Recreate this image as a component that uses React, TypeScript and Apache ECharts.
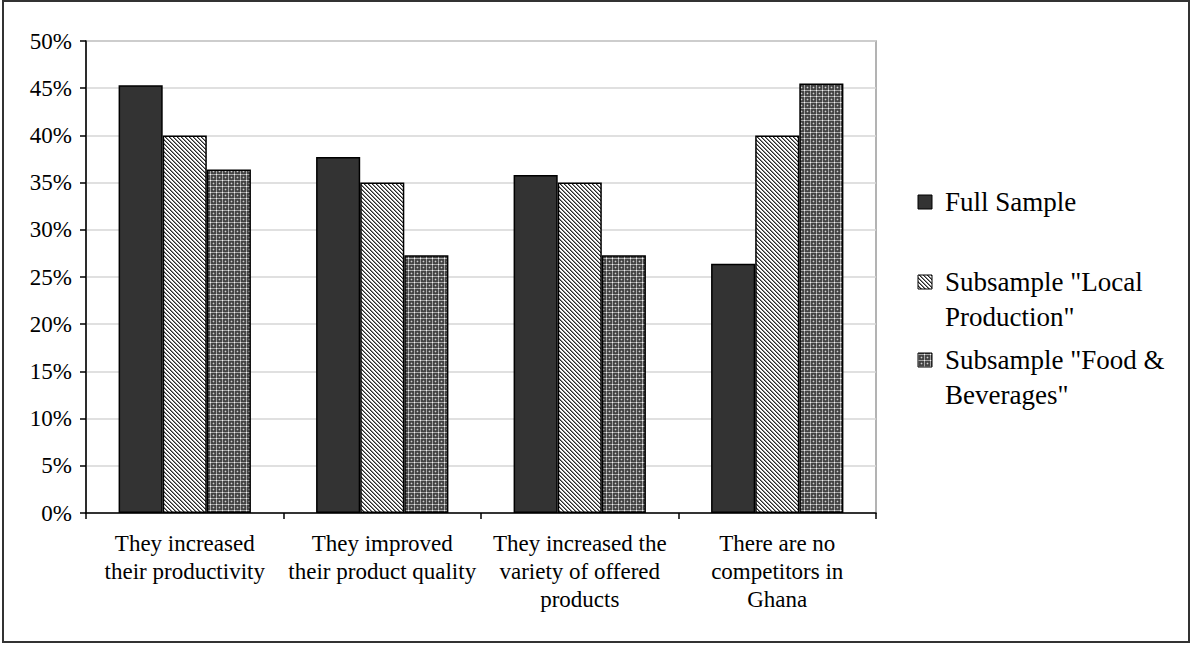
import React, { useEffect, useRef } from "react";
import * as echarts from "echarts";

// Categories and series values (percent of respondents)
const categories = [
  "They increased\ntheir productivity",
  "They improved\ntheir product quality",
  "They increased the\nvariety of offered\nproducts",
  "There are no\ncompetitors in\nGhana",
];
const seriesNames = [
  'Full Sample',
  'Subsample "Local Production"',
  'Subsample "Food & Beverages"',
];
const legendLines = [
  ["Full Sample"],
  ['Subsample "Local', 'Production"'],
  ['Subsample "Food &', 'Beverages"'],
];
const fullSample = [45.3, 37.7, 35.8, 26.4];
const localProduction = [40.0, 35.0, 35.0, 40.0];
const foodBeverages = [36.4, 27.3, 27.3, 45.5];

const FONT = '"Liberation Serif", "Times New Roman", serif';

function makeTile(size: number, paint: (x: number, y: number) => string) {
  const c = document.createElement("canvas");
  c.width = size;
  c.height = size;
  const ctx = c.getContext("2d")!;
  for (let y = 0; y < size; y++) {
    for (let x = 0; x < size; x++) {
      ctx.fillStyle = paint(x, y);
      ctx.fillRect(x, y, 1, 1);
    }
  }
  return {
    image: c.toDataURL(),
    repeat: "repeat",
    imageWidth: size,
    imageHeight: size,
  } as any;
}

// Diagonal "\" hatching
function stripePattern() {
  return makeTile(4, (x, y) => {
    if (x === y) return "#2a2a2a";
    if ((x + 3) % 4 === y) return "#8a8a8a";
    return "#ffffff";
  });
}

// Dark dotted grid
function gridPattern() {
  return makeTile(6, (x, y) => {
    if (x === 0 && y === 0) return "#f4f4f4";
    if (x === 3 && y === 3) return "#cfcfcf";
    if (x === 0 || y === 0) return "#a4a4a4";
    if ((x === 3 && (y === 2 || y === 4)) || (y === 3 && (x === 2 || x === 4))) return "#6e6e6e";
    return "#444444";
  });
}

export default function App() {
  const ref = useRef<HTMLDivElement>(null);

  useEffect(() => {
    if (!ref.current) return;
    const chart = echarts.init(ref.current, undefined, { renderer: "svg" });

    const fills = ["#333333", stripePattern(), gridPattern()];
    const values = [fullSample, localProduction, foodBeverages];

    // Legend drawn as graphic so each icon sits on its item's first text line
    const legendFirstLineY = [202, 282, 360];
    const lineH = 35;
    const legendGraphics: any[] = [];
    legendLines.forEach((lines, i) => {
      const cy = legendFirstLineY[i];
      legendGraphics.push({
        type: "rect",
        shape: { x: 918, y: cy - 7, width: 14, height: 14 },
        style: { fill: fills[i], stroke: "#000", lineWidth: 1 },
      });
      legendGraphics.push({
        type: "text",
        x: 945,
        y: cy - lineH / 2,
        style: {
          text: lines.join("\n"),
          fontFamily: FONT,
          fontSize: 27,
          lineHeight: lineH,
          fill: "#000",
          verticalAlign: "top",
          align: "left",
        },
      });
    });

    chart.setOption({
      animation: false,
      backgroundColor: "#ffffff",
      textStyle: { fontFamily: FONT },
      grid: {
        left: 86,
        right: 316,
        top: 41,
        bottom: 132,
        show: true,
        borderColor: "#9a9a9a",
        borderWidth: 1.5,
      },
      xAxis: {
        type: "category",
        data: categories,
        axisLine: { show: true, lineStyle: { color: "#000", width: 1.5 } },
        axisTick: { show: true, length: 6, lineStyle: { color: "#000", width: 1.5 } },
        axisLabel: {
          interval: 0,
          fontSize: 23,
          lineHeight: 28,
          color: "#000",
          fontFamily: FONT,
          margin: 16,
        },
        splitLine: { show: false },
      },
      yAxis: {
        type: "value",
        min: 0,
        max: 50,
        interval: 5,
        axisLine: { show: true, lineStyle: { color: "#000", width: 1.5 } },
        axisTick: { show: true, length: 6, lineStyle: { color: "#000", width: 1.5 } },
        axisLabel: {
          formatter: "{value}%",
          fontSize: 23,
          color: "#000",
          fontFamily: FONT,
          margin: 14,
        },
        splitLine: { show: true, lineStyle: { color: "#d6d6d6", width: 1.5 } },
      },
      series: seriesNames.map((name, i) => ({
        name,
        type: "bar",
        data: values[i],
        barGap: "0%",
        barCategoryGap: "33%",
        itemStyle: { color: fills[i], borderColor: "#000", borderWidth: 1.5 },
      })),
      graphic: [
        {
          type: "rect",
          shape: { x: 3, y: 1, width: 1186, height: 641 },
          style: { fill: "none", stroke: "#333", lineWidth: 2 },
          silent: true,
        },
        ...legendGraphics,
      ],
    });

    return () => chart.dispose();
  }, []);

  return (
    <div
      ref={ref}
      style={{ position: "fixed", left: 0, top: 0, width: 1192, height: 645 }}
    />
  );
}
